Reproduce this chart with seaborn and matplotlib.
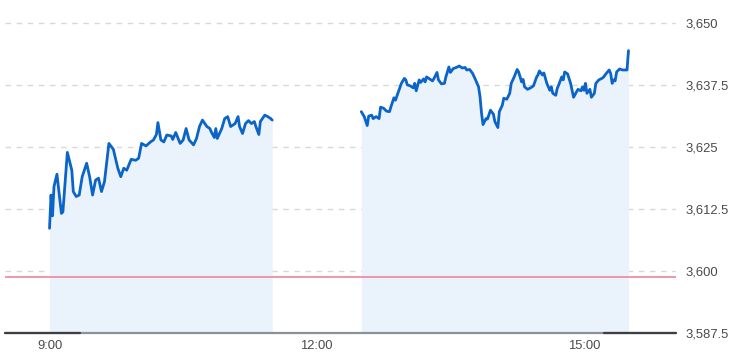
import numpy as np
import pandas as pd
import matplotlib
matplotlib.use("Agg")
import matplotlib.pyplot as plt
import seaborn as sns

# ---- data ----
am_times = ["09:00", "09:01", "09:02", "09:03", "09:05", "09:08", "09:09", "09:12", "09:15", "09:16",
            "09:18", "09:20", "09:22", "09:25", "09:27", "09:29", "09:31", "09:33", "09:35", "09:37",
            "09:40", "09:43", "09:46", "09:48", "09:50", "09:52", "09:55", "09:58", "10:00", "10:02",
            "10:05", "10:08", "10:10", "10:12", "10:13", "10:15", "10:17", "10:19", "10:22", "10:23",
            "10:25", "10:28", "10:30", "10:32", "10:34", "10:37", "10:39", "10:41", "10:43", "10:46",
            "10:48", "10:49", "10:51", "10:52", "10:53", "10:56", "10:58", "11:00", "11:02", "11:05",
            "11:07", "11:08", "11:10", "11:12", "11:14", "11:16", "11:18", "11:19", "11:21", "11:22",
            "11:25", "11:27", "11:29", "11:30"]
am_values = [3608.6, 3615.3, 3611.1, 3617.0, 3619.5, 3611.6, 3611.9, 3623.9, 3620.3, 3616.0,
             3615.0, 3615.3, 3619.0, 3621.7, 3619.0, 3615.3, 3618.3, 3618.7, 3616.0, 3618.0,
             3625.7, 3624.5, 3620.7, 3619.0, 3620.7, 3620.3, 3622.5, 3622.3, 3622.7, 3625.7,
             3625.2, 3626.0, 3626.4, 3627.5, 3629.9, 3626.4, 3626.0, 3627.4, 3627.2, 3626.5,
             3627.9, 3625.7, 3626.4, 3628.7, 3626.4, 3625.4, 3626.7, 3629.1, 3630.4, 3629.1,
             3628.7, 3628.0, 3626.9, 3628.7, 3626.7, 3628.7, 3630.7, 3631.1, 3629.1, 3629.7,
             3631.1, 3629.1, 3627.7, 3629.7, 3630.3, 3629.7, 3630.1, 3629.1, 3627.5, 3630.1,
             3631.4, 3631.1, 3630.7, 3630.4]

pm_times = ["12:30", "12:32", "12:34", "12:35", "12:37", "12:38", "12:40", "12:42", "12:43", "12:45",
            "12:47", "12:49", "12:50", "12:52", "12:53", "12:55", "12:57", "12:59", "13:00", "13:01",
            "13:03", "13:05", "13:06", "13:07", "13:09", "13:10", "13:12", "13:13", "13:14", "13:16",
            "13:18", "13:19", "13:21", "13:22", "13:24", "13:26", "13:27", "13:29", "13:30", "13:32",
            "13:34", "13:36", "13:38", "13:40", "13:41", "13:43", "13:45", "13:47", "13:49", "13:50",
            "13:51", "13:52", "13:54", "13:55", "13:57", "13:59", "14:00", "14:02", "14:03", "14:05",
            "14:06", "14:08", "14:10", "14:11", "14:13", "14:15", "14:16", "14:18", "14:19", "14:20",
            "14:22", "14:24", "14:26", "14:28", "14:29", "14:30", "14:32", "14:33", "14:35", "14:37",
            "14:38", "14:39", "14:41", "14:42", "14:43", "14:45", "14:46", "14:47", "14:49", "14:51",
            "14:52", "14:53", "14:55", "14:56", "14:58", "14:59", "15:00", "15:01", "15:02", "15:04",
            "15:05", "15:07", "15:08", "15:10", "15:12", "15:13", "15:15", "15:17", "15:18", "15:19",
            "15:20", "15:21", "15:22", "15:24", "15:26", "15:28", "15:29", "15:30"]
pm_values = [3632.1, 3631.1, 3629.3, 3631.2, 3631.4, 3630.7, 3631.1, 3630.7, 3633.0, 3632.8,
             3632.2, 3632.1, 3633.1, 3634.9, 3634.4, 3636.1, 3637.8, 3638.8, 3638.5, 3637.5,
             3637.3, 3636.9, 3637.8, 3636.3, 3638.5, 3638.0, 3638.7, 3638.1, 3639.1, 3638.7,
             3638.3, 3638.8, 3640.0, 3638.5, 3637.7, 3637.8, 3639.1, 3641.1, 3640.0, 3640.8,
             3641.0, 3641.3, 3640.9, 3641.0, 3640.5, 3640.6, 3639.8, 3638.5, 3637.1, 3635.1,
             3631.8, 3629.5, 3630.7, 3630.6, 3632.4, 3631.6, 3630.1, 3628.9, 3632.1, 3633.4,
             3634.8, 3634.6, 3635.8, 3637.8, 3639.1, 3640.6, 3640.1, 3638.1, 3638.6, 3637.1,
             3636.6, 3636.9, 3637.3, 3639.0, 3639.5, 3640.3, 3639.5, 3639.9, 3637.8, 3636.4,
             3637.1, 3635.8, 3635.4, 3636.8, 3637.5, 3639.1, 3638.5, 3640.1, 3639.7, 3637.8,
             3636.4, 3635.0, 3636.1, 3636.6, 3636.3, 3637.1, 3636.4, 3637.8, 3635.8, 3636.6,
             3635.0, 3635.8, 3637.8, 3638.5, 3638.8, 3639.0, 3639.8, 3640.5, 3639.8, 3637.8,
             3638.5, 3638.3, 3640.1, 3640.7, 3640.5, 3640.5, 3640.5, 3644.4]

prev_close = 3598.85
y_ticks = [3587.5, 3600, 3612.5, 3625, 3637.5, 3650]
y_tick_labels = ["3,587.5", "3,600", "3,612.5", "3,625", "3,637.5", "3,650"]
x_ticks = ["09:00", "12:00", "15:00"]
x_tick_labels = ["9:00", "12:00", "15:00"]
x_range = ["08:30", "16:02"]
y_range = [3587.5, 3654.6]


def to_min(t):
    h, m = t.split(":")
    return int(h) * 60 + int(m)


am = pd.DataFrame({"t": [to_min(t) for t in am_times], "v": am_values, "session": "am"})
pm = pd.DataFrame({"t": [to_min(t) for t in pm_times], "v": pm_values, "session": "pm"})
df = pd.concat([am, pm], ignore_index=True)

sns.set_style("white")
plt.rcParams["font.family"] = ["Liberation Sans", "DejaVu Sans"]

W, H = 737, 362
fig = plt.figure(figsize=(W / 100, H / 100), dpi=100)
ax = fig.add_axes([5 / W, 29 / H, (676 - 5) / W, 1 - 29 / H])

line_color = "#0b64c8"
fill_color = "#eaf2fb"

for part in (am, pm):
    ax.fill_between(part["t"], part["v"], y_range[0], color=fill_color, lw=0, zorder=1)

# grid lines
for yt in y_ticks[1:]:
    ax.axhline(yt, color="#d8d8d8", lw=1.0, ls=(0, (4, 4)), zorder=0.5)

ax.axhline(prev_close, color="#f08ea2", lw=1.3, zorder=2)

sns.lineplot(data=df, x="t", y="v", units="session", estimator=None, color=line_color,
             lw=2.0, ax=ax, zorder=3, legend=False)

# bottom axis line
ax.axhline(y_range[0], color="#8b9099", lw=1.6, zorder=4, clip_on=False)
ax.axhline(y_range[0], xmin=0, xmax=(80 - 5) / 671, color="#3c3f44", lw=1.6, zorder=5, clip_on=False)
ax.axhline(y_range[0], xmin=(604 - 5) / 671, xmax=1, color="#3c3f44", lw=1.6, zorder=5, clip_on=False)

ax.set_xlim(to_min(x_range[0]), to_min(x_range[1]))
ax.set_ylim(*y_range)

ax.set_xticks([to_min(t) for t in x_ticks])
ax.set_xticklabels(x_tick_labels)
ax.yaxis.tick_right()
ax.set_yticks(y_ticks)
ax.set_yticklabels(y_tick_labels)
ax.tick_params(axis="both", length=0, labelsize=9.4, labelcolor="#4a4a4a")
ax.tick_params(axis="y", pad=7)
ax.tick_params(axis="x", pad=5)
ax.set_xlabel("")
ax.set_ylabel("")
for s in ax.spines.values():
    s.set_visible(False)

fig.savefig("out.png", dpi=100)
